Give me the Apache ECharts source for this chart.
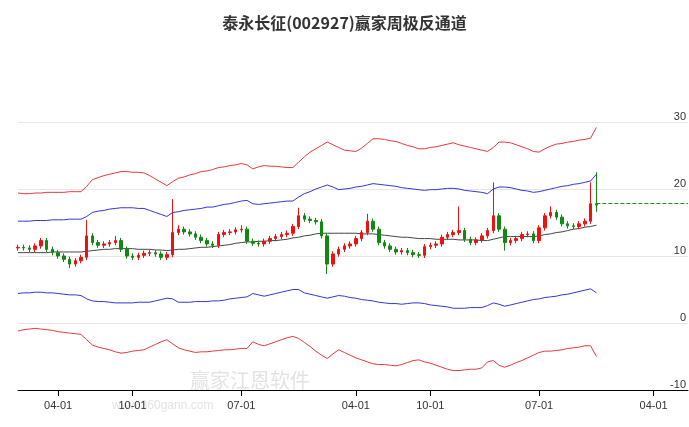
<!DOCTYPE html>
<html><head><meta charset="utf-8">
<script src="https://cdn.jsdelivr.net/npm/echarts@6/dist/echarts.min.js"></script>
<style>html,body{margin:0;padding:0;background:#fff}#c{width:689px;height:427px}</style>
</head><body><div id="c"></div>
<script>
const closes=[11.3,11.2,11.0,11.5,12.3,11.0,10.5,10.0,9.5,8.8,9.3,9.8,13.0,12.0,11.6,11.8,12.0,12.3,11.0,10.0,9.8,10.1,10.4,10.5,10.3,9.8,10.2,13.5,14.0,13.6,13.3,12.8,12.3,11.8,11.6,13.2,13.5,13.6,13.9,14.0,12.2,11.9,11.8,12.2,12.6,12.9,13.2,13.4,14.4,16.0,15.5,15.3,15.1,13.0,8.8,10.3,11.0,11.5,11.8,12.6,13.5,15.2,14.0,12.0,11.5,11.0,10.6,10.8,10.5,10.2,10.1,11.4,11.6,11.8,12.8,13.2,13.5,13.8,12.5,12.0,12.4,13.0,13.8,16.0,14.0,12.0,12.3,12.6,13.2,13.3,12.3,14.2,16.0,16.5,15.8,14.8,14.5,14.4,14.8,15.2,17.8,17.6];
const opens=[11.2,11.3,11.2,11.0,11.5,12.3,11.0,10.5,10.0,9.5,8.8,9.3,9.8,13.0,12.0,11.6,11.8,12.0,12.3,11.0,10.0,9.8,10.1,10.4,10.5,10.3,9.8,10.2,13.5,14.0,13.6,13.3,12.8,12.3,11.8,11.6,13.2,13.5,13.6,13.9,14.0,12.2,11.9,11.8,12.2,12.6,12.9,13.2,13.4,14.4,16.0,15.5,15.3,15.1,13.0,8.8,10.3,11.0,11.5,11.8,12.6,13.5,15.2,14.0,12.0,11.5,11.0,10.6,10.8,10.5,10.2,10.1,11.4,11.6,11.8,12.8,13.2,13.5,13.8,12.5,12.0,12.4,13.0,13.8,16.0,14.0,12.0,12.3,12.6,13.2,13.3,12.3,14.2,16.0,16.5,15.8,14.8,14.5,14.4,14.8,15.2,17.8];
const highs=[11.7,11.7,11.6,11.9,12.7,12.7,11.4,10.9,10.4,9.9,9.7,10.2,15.4,13.4,12.4,12.2,12.4,13.0,12.7,11.4,10.4,10.5,10.8,10.9,10.9,10.7,10.6,18.5,14.6,14.4,14.0,13.7,13.2,12.7,12.2,13.6,13.9,14.0,14.3,14.6,14.4,12.6,12.3,12.6,13.0,13.3,13.6,13.8,14.8,17.2,16.4,15.9,15.7,15.5,13.4,10.7,11.4,11.9,12.2,13.0,13.9,16.3,15.6,14.4,12.4,11.9,11.4,11.2,11.2,10.9,10.6,11.8,12.0,12.2,13.2,13.6,13.9,17.4,14.2,12.9,12.8,13.4,14.2,21.0,16.4,14.4,12.7,13.0,13.6,13.7,13.7,14.6,16.4,17.4,16.9,16.2,15.2,14.9,15.2,15.6,21.0,22.5];
const lows=[10.8,10.8,10.6,10.6,11.1,10.6,10.1,9.6,9.1,8.2,8.4,8.9,9.4,11.6,11.2,11.2,11.4,11.6,10.6,9.6,9.4,9.4,9.7,10.0,9.9,9.4,9.4,9.8,13.1,13.2,12.9,12.4,11.9,11.4,11.2,11.2,12.8,13.1,13.2,13.5,11.8,11.5,11.4,11.4,11.8,12.2,12.5,12.8,13.0,14.0,15.1,14.9,14.7,12.6,7.3,8.4,9.9,10.6,11.1,11.4,12.2,13.1,13.6,11.6,11.1,10.6,10.2,10.2,10.1,9.8,9.7,9.7,11.0,11.2,11.4,12.4,12.8,13.1,12.1,11.6,11.6,12.0,12.6,13.4,13.6,10.8,11.6,11.9,12.2,12.8,11.9,11.9,13.8,15.6,15.4,14.4,14.1,14.0,14.0,14.4,14.8,16.6];
const upperRed=[19.4,19.3,19.3,19.4,19.4,19.5,19.5,19.5,19.5,19.6,19.6,19.6,20.4,21.4,21.7,22.0,22.2,22.4,22.6,22.6,22.5,22.5,22.4,22.0,21.5,21.0,20.5,21.1,21.6,21.8,22.1,22.3,22.6,22.7,22.9,23.2,23.3,23.5,23.6,23.8,23.6,23.0,23.3,23.5,23.4,23.4,23.3,23.2,23.2,24.0,24.8,25.5,26.0,26.5,27.0,26.6,26.2,25.8,25.7,25.6,26.1,26.8,27.5,27.5,27.4,27.2,27.1,26.8,26.5,26.3,26.0,26.0,26.2,26.3,26.5,26.7,26.9,26.6,26.4,26.2,26.0,25.8,25.6,26.2,27.0,27.0,26.9,26.6,26.3,26.0,25.6,25.5,26.0,26.4,26.7,26.8,27.0,27.1,27.3,27.4,27.6,29.2];
const upperBlue=[15.2,15.2,15.2,15.3,15.3,15.3,15.4,15.4,15.4,15.5,15.5,15.5,15.9,16.5,16.7,16.8,17.0,17.1,17.2,17.2,17.2,17.1,17.1,16.8,16.5,16.2,15.9,16.5,16.6,16.8,16.9,17.0,17.1,17.3,17.3,17.5,17.7,17.8,18.0,18.2,18.3,17.8,17.7,17.8,17.9,18.0,18.1,18.2,18.2,18.8,19.3,19.6,20.0,20.3,20.6,20.3,19.9,20.0,20.1,20.3,20.4,20.6,20.8,20.7,20.6,20.5,20.4,20.2,20.1,20.0,19.9,19.8,19.9,19.9,20.0,20.1,20.1,20.0,19.8,19.7,19.6,19.5,19.3,20.0,20.3,20.3,20.2,20.0,19.8,19.7,19.5,19.6,19.8,20.0,20.2,20.4,20.5,20.7,20.8,21.0,21.2,22.2];
const midLine=[10.5,10.5,10.5,10.5,10.5,10.5,10.6,10.6,10.6,10.6,10.6,10.6,10.7,10.8,10.9,11.0,11.0,11.1,11.1,11.1,11.1,11.0,11.0,11.0,10.9,10.9,10.8,10.9,11.0,11.0,11.1,11.2,11.3,11.3,11.4,11.5,11.6,11.7,11.9,12.0,12.1,12.1,12.2,12.2,12.3,12.3,12.4,12.5,12.7,12.8,13.0,13.1,13.3,13.4,13.4,13.4,13.4,13.4,13.4,13.4,13.3,13.3,13.3,13.2,13.1,13.0,12.9,12.8,12.8,12.7,12.6,12.6,12.6,12.5,12.5,12.5,12.5,12.4,12.4,12.4,12.4,12.3,12.3,12.5,12.7,12.9,12.9,12.9,12.9,12.9,12.9,13.0,13.2,13.3,13.5,13.6,13.8,14.0,14.1,14.3,14.4,14.6];
const lowerBlue=[4.4,4.5,4.5,4.6,4.6,4.5,4.5,4.4,4.3,4.2,4.2,4.1,3.6,3.3,3.2,3.2,3.1,3.0,3.0,3.0,3.0,3.1,3.1,3.1,3.3,3.5,3.7,3.6,3.1,3.1,3.1,3.2,3.2,3.2,3.3,3.3,3.4,3.6,3.7,3.8,3.9,4.4,4.2,4.0,4.2,4.4,4.6,4.8,5.0,5.0,4.5,4.3,4.1,3.9,3.7,3.9,4.1,4.0,3.8,3.7,3.5,3.4,3.3,3.1,3.0,2.9,2.9,2.8,2.9,3.0,3.0,2.9,2.7,2.6,2.5,2.4,2.2,2.2,2.2,2.3,2.3,2.3,2.6,3.0,2.8,2.5,2.7,2.9,3.1,3.3,3.5,3.6,3.8,3.9,4.0,4.2,4.3,4.5,4.7,4.9,5.1,4.5];
const lowerRed=[-1.2,-1.0,-0.9,-0.8,-0.9,-1.0,-1.1,-1.3,-1.4,-1.5,-1.6,-1.7,-2.5,-3.3,-3.6,-3.8,-4.0,-4.3,-4.5,-4.4,-4.2,-4.1,-4.0,-3.6,-3.2,-2.8,-2.5,-3.1,-3.7,-4.0,-4.2,-4.4,-4.3,-4.3,-4.2,-4.1,-4.0,-4.0,-3.9,-3.8,-3.8,-2.8,-3.2,-3.4,-3.1,-2.8,-2.5,-2.2,-2.0,-2.3,-2.9,-3.5,-4.2,-4.8,-5.3,-4.6,-4.0,-4.4,-4.8,-5.2,-5.5,-5.8,-6.1,-6.2,-6.2,-6.3,-6.4,-6.2,-5.9,-5.6,-5.5,-5.8,-6.0,-6.3,-6.6,-6.9,-7.1,-7.1,-7.0,-6.9,-6.9,-6.7,-5.8,-5.6,-6.3,-6.6,-6.3,-5.9,-5.6,-5.2,-4.8,-4.4,-4.2,-4.2,-4.1,-4.0,-3.8,-3.7,-3.6,-3.4,-3.4,-5.0];
const lastPrice=17.9;
const tickDates=['2022-04-01','2022-10-01','2023-07-01','2024-04-01','2024-10-01','2025-07-01','2026-04-01'];
const tickLabels=['04-01','10-01','07-01','04-01','10-01','07-01','04-01'];
const startDate='2022-01-05', stepDays=14, nCats=118;

const cats=[];
const t0=new Date(startDate+'T00:00:00Z').getTime();
for(let i=0;i<nCats;i++){cats.push(new Date(t0+i*stepDays*86400000).toISOString().slice(0,10));}
const labelAt={};
tickDates.forEach((d,k)=>{const idx=cats.findIndex(c=>c>=d); if(idx>=0) labelAt[idx]=tickLabels[k];});
const kdata=closes.map((c,i)=>[opens[i],c,lows[i],highs[i]]);
const n=closes.length;
const ln=(name,data,color)=>({type:'line',name,data,symbol:'none',smooth:false,lineStyle:{color,width:1},z:3});
const chart=echarts.init(document.getElementById('c'));
chart.setOption({
 animation:false,
 title:{text:'泰永长征(002927)赢家周极反通道',left:'center',top:10,textStyle:{fontSize:16,fontWeight:'bold',color:'#333',fontFamily:'Noto Sans CJK SC'}},
 graphic:[{type:'text',left:190,top:370,style:{text:'赢家江恩软件',fontSize:20,fill:'rgba(200,200,200,0.5)',fontFamily:'Noto Sans CJK SC'}},
          {type:'text',left:112,top:400,style:{text:'www.360gann.com',fontSize:12,fill:'rgba(200,200,200,0.5)'}}],
 grid:{left:18,right:1,top:55,bottom:37},
 xAxis:{type:'category',data:cats,boundaryGap:false,
   axisLine:{onZero:false,lineStyle:{color:'#000'}},
   axisTick:{interval:(i)=>labelAt[i]!==undefined,length:6,lineStyle:{color:'#000'}},
   axisLabel:{interval:(i)=>labelAt[i]!==undefined,formatter:(v,i)=>labelAt[i]||'',color:'#333',fontSize:11,margin:10},
   splitLine:{show:false}},
 yAxis:{type:'value',position:'right',min:-10,max:40,interval:10,
   axisLine:{show:false},axisTick:{show:false},
   axisLabel:{inside:true,verticalAlign:'bottom',color:'#333',fontSize:11,margin:2,showMaxLabel:false},
   splitLine:{lineStyle:{color:'#e6e6e6'},showMaxLine:false}},
 series:[
  ln('upperRed',upperRed,'#e8383a'),
  ln('upperBlue',upperBlue,'#3434d8'),
  ln('mid',midLine,'#444'),
  ln('lowerBlue',lowerBlue,'#3434d8'),
  ln('lowerRed',lowerRed,'#e8383a'),
  {type:'candlestick',data:kdata,barWidth:3,
   itemStyle:{color:'#ee1111',color0:'#118811',borderColor:'#ee1111',borderColor0:'#118811',borderWidth:1},
   markLine:{symbol:'none',silent:true,label:{show:false},lineStyle:{color:'#2a8a2a',type:'dashed',width:1},
     data:[[{coord:[n-1,lastPrice]},{coord:[nCats-1,lastPrice]}]]},z:4}
 ]
});
</script></body></html>
